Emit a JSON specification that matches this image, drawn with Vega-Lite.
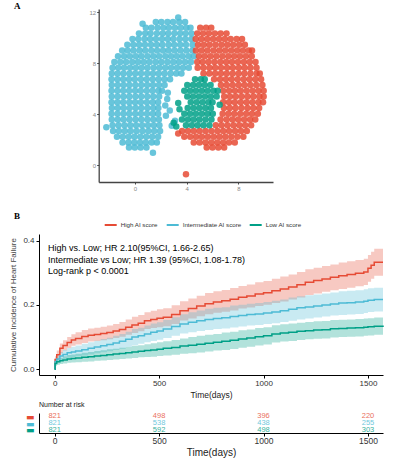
{
  "$schema": "https://vega.github.io/schema/vega-lite/v6.json",
  "padding": {"left": 9, "top": 2, "right": 0, "bottom": 0},
  "spacing": 21,
  "resolve": {"legend": {"color": "independent"}},
  "config": {
    "view": {"stroke": null},
    "font": "Liberation Sans",
    "axis": {"grid": false, "labelFont": "Liberation Sans", "titleFont": "Liberation Sans", "titleFontWeight": "normal", "domainColor": "#000", "tickColor": "#000", "labelColor": "#333", "titleColor": "#222"},
    "title": {"font": "Liberation Serif", "fontWeight": "bold", "fontSize": 9, "color": "#000"}
  },
  "datasets": {
    "umap": [
      {"x":1.62,"y":11.25,"c":"I"},{"x":2.05,"y":11.25,"c":"I"},{"x":2.52,"y":11.25,"c":"I"},{"x":2.95,"y":11.25,"c":"I"},{"x":3.43,"y":11.25,"c":"I"},{"x":3.88,"y":11.25,"c":"I"},
      {"x":0.85,"y":10.8,"c":"I"},{"x":1.28,"y":10.8,"c":"I"},{"x":1.75,"y":10.8,"c":"I"},{"x":2.2,"y":10.8,"c":"I"},{"x":2.63,"y":10.8,"c":"I"},{"x":3.1,"y":10.8,"c":"I"},{"x":3.55,"y":10.8,"c":"I"},{"x":3.98,"y":10.8,"c":"I"},{"x":4.3,"y":10.8,"c":"I"},
      {"x":0.32,"y":10.35,"c":"I"},{"x":0.8,"y":10.35,"c":"I"},{"x":1.22,"y":10.35,"c":"I"},{"x":1.7,"y":10.35,"c":"I"},{"x":2.15,"y":10.35,"c":"I"},{"x":2.58,"y":10.35,"c":"I"},{"x":3.05,"y":10.35,"c":"I"},{"x":3.5,"y":10.35,"c":"I"},{"x":3.93,"y":10.35,"c":"I"},{"x":4.38,"y":10.35,"c":"I"},
      {"x":-0.18,"y":9.9,"c":"I"},{"x":0.27,"y":9.9,"c":"I"},{"x":0.74,"y":9.9,"c":"I"},{"x":1.18,"y":9.9,"c":"I"},{"x":1.63,"y":9.9,"c":"I"},{"x":2.1,"y":9.9,"c":"I"},{"x":2.55,"y":9.9,"c":"I"},{"x":2.98,"y":9.9,"c":"I"},{"x":3.45,"y":9.9,"c":"I"},{"x":3.9,"y":9.9,"c":"I"},{"x":4.36,"y":9.9,"c":"I"},
      {"x":-0.58,"y":9.45,"c":"I"},{"x":-0.12,"y":9.45,"c":"I"},{"x":0.33,"y":9.45,"c":"I"},{"x":0.78,"y":9.45,"c":"I"},{"x":1.25,"y":9.45,"c":"I"},{"x":1.7,"y":9.45,"c":"I"},{"x":2.13,"y":9.45,"c":"I"},{"x":2.6,"y":9.45,"c":"I"},{"x":3.04,"y":9.45,"c":"I"},{"x":3.5,"y":9.45,"c":"I"},{"x":3.95,"y":9.45,"c":"I"},{"x":4.45,"y":9.45,"c":"I"},
      {"x":-0.98,"y":9.0,"c":"I"},{"x":-0.55,"y":9.0,"c":"I"},{"x":-0.1,"y":9.0,"c":"I"},{"x":0.36,"y":9.0,"c":"I"},{"x":0.8,"y":9.0,"c":"I"},{"x":1.27,"y":9.0,"c":"I"},{"x":1.72,"y":9.0,"c":"I"},{"x":2.18,"y":9.0,"c":"I"},{"x":2.62,"y":9.0,"c":"I"},{"x":3.08,"y":9.0,"c":"I"},{"x":3.53,"y":9.0,"c":"I"},{"x":3.98,"y":9.0,"c":"I"},{"x":4.44,"y":9.0,"c":"I"},
      {"x":-1.3,"y":8.55,"c":"I"},{"x":-0.83,"y":8.55,"c":"I"},{"x":-0.38,"y":8.55,"c":"I"},{"x":0.08,"y":8.55,"c":"I"},{"x":0.52,"y":8.55,"c":"I"},{"x":0.98,"y":8.55,"c":"I"},{"x":1.43,"y":8.55,"c":"I"},{"x":1.88,"y":8.55,"c":"I"},{"x":2.35,"y":8.55,"c":"I"},{"x":2.8,"y":8.55,"c":"I"},{"x":3.25,"y":8.55,"c":"I"},{"x":3.7,"y":8.55,"c":"I"},{"x":4.16,"y":8.55,"c":"I"},{"x":4.55,"y":8.55,"c":"I"},
      {"x":-1.58,"y":8.1,"c":"I"},{"x":-1.12,"y":8.1,"c":"I"},{"x":-0.67,"y":8.1,"c":"I"},{"x":-0.2,"y":8.1,"c":"I"},{"x":0.25,"y":8.1,"c":"I"},{"x":0.7,"y":8.1,"c":"I"},{"x":1.15,"y":8.1,"c":"I"},{"x":1.62,"y":8.1,"c":"I"},{"x":2.07,"y":8.1,"c":"I"},{"x":2.53,"y":8.1,"c":"I"},{"x":2.98,"y":8.1,"c":"I"},{"x":3.42,"y":8.1,"c":"I"},{"x":3.88,"y":8.1,"c":"I"},{"x":4.33,"y":8.1,"c":"I"},
      {"x":-1.72,"y":7.65,"c":"I"},{"x":-1.28,"y":7.65,"c":"I"},{"x":-0.83,"y":7.65,"c":"I"},{"x":-0.37,"y":7.65,"c":"I"},{"x":0.08,"y":7.65,"c":"I"},{"x":0.53,"y":7.65,"c":"I"},{"x":0.98,"y":7.65,"c":"I"},{"x":1.45,"y":7.65,"c":"I"},{"x":1.9,"y":7.65,"c":"I"},{"x":2.35,"y":7.65,"c":"I"},{"x":2.8,"y":7.65,"c":"I"},{"x":3.26,"y":7.65,"c":"I"},{"x":3.72,"y":7.65,"c":"I"},{"x":4.17,"y":7.65,"c":"I"},
      {"x":-1.78,"y":7.2,"c":"I"},{"x":-1.33,"y":7.2,"c":"I"},{"x":-0.88,"y":7.2,"c":"I"},{"x":-0.42,"y":7.2,"c":"I"},{"x":0.03,"y":7.2,"c":"I"},{"x":0.48,"y":7.2,"c":"I"},{"x":0.95,"y":7.2,"c":"I"},{"x":1.4,"y":7.2,"c":"I"},{"x":1.85,"y":7.2,"c":"I"},{"x":2.3,"y":7.2,"c":"I"},{"x":2.76,"y":7.2,"c":"I"},{"x":3.2,"y":7.2,"c":"I"},{"x":3.6,"y":7.2,"c":"I"},
      {"x":-1.8,"y":6.75,"c":"I"},{"x":-1.35,"y":6.75,"c":"I"},{"x":-0.9,"y":6.75,"c":"I"},{"x":-0.45,"y":6.75,"c":"I"},{"x":0.0,"y":6.75,"c":"I"},{"x":0.47,"y":6.75,"c":"I"},{"x":0.92,"y":6.75,"c":"I"},{"x":1.38,"y":6.75,"c":"I"},{"x":1.83,"y":6.75,"c":"I"},{"x":2.28,"y":6.75,"c":"I"},{"x":2.72,"y":6.75,"c":"I"},
      {"x":-1.78,"y":6.3,"c":"I"},{"x":-1.32,"y":6.3,"c":"I"},{"x":-0.87,"y":6.3,"c":"I"},{"x":-0.42,"y":6.3,"c":"I"},{"x":0.04,"y":6.3,"c":"I"},{"x":0.5,"y":6.3,"c":"I"},{"x":0.95,"y":6.3,"c":"I"},{"x":1.4,"y":6.3,"c":"I"},{"x":1.86,"y":6.3,"c":"I"},{"x":2.3,"y":6.3,"c":"I"},
      {"x":-1.8,"y":5.85,"c":"I"},{"x":-1.35,"y":5.85,"c":"I"},{"x":-0.9,"y":5.85,"c":"I"},{"x":-0.44,"y":5.85,"c":"I"},{"x":0.02,"y":5.85,"c":"I"},{"x":0.46,"y":5.85,"c":"I"},{"x":0.92,"y":5.85,"c":"I"},{"x":1.37,"y":5.85,"c":"I"},{"x":1.82,"y":5.85,"c":"I"},{"x":2.1,"y":5.85,"c":"I"},
      {"x":-1.78,"y":5.4,"c":"I"},{"x":-1.32,"y":5.4,"c":"I"},{"x":-0.86,"y":5.4,"c":"I"},{"x":-0.41,"y":5.4,"c":"I"},{"x":0.05,"y":5.4,"c":"I"},{"x":0.5,"y":5.4,"c":"I"},{"x":0.96,"y":5.4,"c":"I"},{"x":1.42,"y":5.4,"c":"I"},{"x":1.88,"y":5.4,"c":"I"},
      {"x":-1.8,"y":4.95,"c":"I"},{"x":-1.35,"y":4.95,"c":"I"},{"x":-0.9,"y":4.95,"c":"I"},{"x":-0.43,"y":4.95,"c":"I"},{"x":0.02,"y":4.95,"c":"I"},{"x":0.47,"y":4.95,"c":"I"},{"x":0.93,"y":4.95,"c":"I"},{"x":1.38,"y":4.95,"c":"I"},{"x":1.8,"y":4.95,"c":"I"},
      {"x":-1.77,"y":4.5,"c":"I"},{"x":-1.31,"y":4.5,"c":"I"},{"x":-0.86,"y":4.5,"c":"I"},{"x":-0.4,"y":4.5,"c":"I"},{"x":0.06,"y":4.5,"c":"I"},{"x":0.51,"y":4.5,"c":"I"},{"x":0.97,"y":4.5,"c":"I"},{"x":1.42,"y":4.5,"c":"I"},{"x":1.82,"y":4.5,"c":"I"},
      {"x":-1.8,"y":4.05,"c":"I"},{"x":-1.34,"y":4.05,"c":"I"},{"x":-0.88,"y":4.05,"c":"I"},{"x":-0.43,"y":4.05,"c":"I"},{"x":0.03,"y":4.05,"c":"I"},{"x":0.48,"y":4.05,"c":"I"},{"x":0.94,"y":4.05,"c":"I"},{"x":1.39,"y":4.05,"c":"I"},{"x":1.8,"y":4.05,"c":"I"},
      {"x":-1.78,"y":3.6,"c":"I"},{"x":-1.32,"y":3.6,"c":"I"},{"x":-0.87,"y":3.6,"c":"I"},{"x":-0.41,"y":3.6,"c":"I"},{"x":0.05,"y":3.6,"c":"I"},{"x":0.5,"y":3.6,"c":"I"},{"x":0.96,"y":3.6,"c":"I"},{"x":1.42,"y":3.6,"c":"I"},{"x":1.86,"y":3.6,"c":"I"},
      {"x":-1.72,"y":3.15,"c":"I"},{"x":-1.26,"y":3.15,"c":"I"},{"x":-0.8,"y":3.15,"c":"I"},{"x":-0.35,"y":3.15,"c":"I"},{"x":0.1,"y":3.15,"c":"I"},{"x":0.56,"y":3.15,"c":"I"},{"x":1.02,"y":3.15,"c":"I"},{"x":1.47,"y":3.15,"c":"I"},{"x":1.9,"y":3.15,"c":"I"},
      {"x":-1.68,"y":2.7,"c":"I"},{"x":-1.23,"y":2.7,"c":"I"},{"x":-0.77,"y":2.7,"c":"I"},{"x":-0.32,"y":2.7,"c":"I"},{"x":0.14,"y":2.7,"c":"I"},{"x":0.6,"y":2.7,"c":"I"},{"x":1.05,"y":2.7,"c":"I"},{"x":1.5,"y":2.7,"c":"I"},{"x":1.95,"y":2.7,"c":"I"},
      {"x":-1.38,"y":2.25,"c":"I"},{"x":-0.93,"y":2.25,"c":"I"},{"x":-0.47,"y":2.25,"c":"I"},{"x":-0.02,"y":2.25,"c":"I"},{"x":0.43,"y":2.25,"c":"I"},{"x":0.88,"y":2.25,"c":"I"},{"x":1.34,"y":2.25,"c":"I"},{"x":1.8,"y":2.25,"c":"I"},
      {"x":-0.95,"y":1.8,"c":"I"},{"x":-0.5,"y":1.8,"c":"I"},{"x":-0.05,"y":1.8,"c":"I"},{"x":0.4,"y":1.8,"c":"I"},{"x":0.85,"y":1.8,"c":"I"},{"x":1.3,"y":1.8,"c":"I"},{"x":1.7,"y":1.8,"c":"I"},
      {"x":-0.45,"y":1.4,"c":"I"},{"x":0.0,"y":1.4,"c":"I"},{"x":0.45,"y":1.4,"c":"I"},{"x":0.9,"y":1.4,"c":"I"},
      {"x":2.5,"y":5.2,"c":"I"},{"x":2.7,"y":4.3,"c":"I"},{"x":2.85,"y":3.1,"c":"I"},{"x":2.4,"y":3.9,"c":"I"},{"x":3.1,"y":3.5,"c":"I"},{"x":2.35,"y":4.7,"c":"I"},{"x":3.35,"y":11.6,"c":"I"},{"x":-2.2,"y":3.0,"c":"I"},{"x":1.4,"y":1.0,"c":"I"},{"x":0.6,"y":11.1,"c":"I"},{"x":2.55,"y":5.7,"c":"I"},
      {"x":5.05,"y":10.8,"c":"H"},{"x":5.5,"y":10.8,"c":"H"},{"x":5.9,"y":10.8,"c":"H"},
      {"x":4.82,"y":10.35,"c":"H"},{"x":5.27,"y":10.35,"c":"H"},{"x":5.72,"y":10.35,"c":"H"},{"x":6.18,"y":10.35,"c":"H"},{"x":6.63,"y":10.35,"c":"H"},{"x":7.08,"y":10.35,"c":"H"},
      {"x":4.7,"y":9.9,"c":"H"},{"x":5.13,"y":9.9,"c":"H"},{"x":5.58,"y":9.9,"c":"H"},{"x":6.04,"y":9.9,"c":"H"},{"x":6.5,"y":9.9,"c":"H"},{"x":6.95,"y":9.9,"c":"H"},{"x":7.4,"y":9.9,"c":"H"},{"x":7.86,"y":9.9,"c":"H"},{"x":8.28,"y":9.9,"c":"H"},
      {"x":4.88,"y":9.45,"c":"H"},{"x":5.33,"y":9.45,"c":"H"},{"x":5.78,"y":9.45,"c":"H"},{"x":6.24,"y":9.45,"c":"H"},{"x":6.7,"y":9.45,"c":"H"},{"x":7.15,"y":9.45,"c":"H"},{"x":7.6,"y":9.45,"c":"H"},{"x":8.06,"y":9.45,"c":"H"},{"x":8.5,"y":9.45,"c":"H"},
      {"x":4.72,"y":9.0,"c":"H"},{"x":5.17,"y":9.0,"c":"H"},{"x":5.62,"y":9.0,"c":"H"},{"x":6.08,"y":9.0,"c":"H"},{"x":6.53,"y":9.0,"c":"H"},{"x":6.98,"y":9.0,"c":"H"},{"x":7.44,"y":9.0,"c":"H"},{"x":7.9,"y":9.0,"c":"H"},{"x":8.35,"y":9.0,"c":"H"},{"x":8.8,"y":9.0,"c":"H"},{"x":9.05,"y":9.0,"c":"H"},
      {"x":4.95,"y":8.55,"c":"H"},{"x":5.4,"y":8.55,"c":"H"},{"x":5.85,"y":8.55,"c":"H"},{"x":6.3,"y":8.55,"c":"H"},{"x":6.76,"y":8.55,"c":"H"},{"x":7.22,"y":8.55,"c":"H"},{"x":7.67,"y":8.55,"c":"H"},{"x":8.12,"y":8.55,"c":"H"},{"x":8.58,"y":8.55,"c":"H"},{"x":9.03,"y":8.55,"c":"H"},
      {"x":4.82,"y":8.1,"c":"H"},{"x":5.23,"y":8.1,"c":"H"},{"x":5.68,"y":8.1,"c":"H"},{"x":6.14,"y":8.1,"c":"H"},{"x":6.6,"y":8.1,"c":"H"},{"x":7.05,"y":8.1,"c":"H"},{"x":7.5,"y":8.1,"c":"H"},{"x":7.96,"y":8.1,"c":"H"},{"x":8.42,"y":8.1,"c":"H"},{"x":8.87,"y":8.1,"c":"H"},{"x":9.32,"y":8.1,"c":"H"},
      {"x":4.85,"y":7.65,"c":"H"},{"x":5.3,"y":7.65,"c":"H"},{"x":5.76,"y":7.65,"c":"H"},{"x":6.2,"y":7.65,"c":"H"},{"x":6.66,"y":7.65,"c":"H"},{"x":7.12,"y":7.65,"c":"H"},{"x":7.57,"y":7.65,"c":"H"},{"x":8.03,"y":7.65,"c":"H"},{"x":8.48,"y":7.65,"c":"H"},{"x":8.93,"y":7.65,"c":"H"},{"x":9.4,"y":7.65,"c":"H"},
      {"x":5.3,"y":7.2,"c":"H"},{"x":5.75,"y":7.2,"c":"H"},{"x":6.2,"y":7.2,"c":"H"},{"x":6.65,"y":7.2,"c":"H"},{"x":7.1,"y":7.2,"c":"H"},{"x":7.56,"y":7.2,"c":"H"},{"x":8.02,"y":7.2,"c":"H"},{"x":8.47,"y":7.2,"c":"H"},{"x":8.93,"y":7.2,"c":"H"},{"x":9.4,"y":7.2,"c":"H"},{"x":9.65,"y":7.2,"c":"H"},
      {"x":6.12,"y":6.75,"c":"H"},{"x":6.58,"y":6.75,"c":"H"},{"x":7.03,"y":6.75,"c":"H"},{"x":7.48,"y":6.75,"c":"H"},{"x":7.94,"y":6.75,"c":"H"},{"x":8.4,"y":6.75,"c":"H"},{"x":8.85,"y":6.75,"c":"H"},{"x":9.3,"y":6.75,"c":"H"},{"x":9.75,"y":6.75,"c":"H"},
      {"x":6.65,"y":6.3,"c":"H"},{"x":7.1,"y":6.3,"c":"H"},{"x":7.56,"y":6.3,"c":"H"},{"x":8.02,"y":6.3,"c":"H"},{"x":8.47,"y":6.3,"c":"H"},{"x":8.92,"y":6.3,"c":"H"},{"x":9.38,"y":6.3,"c":"H"},{"x":9.85,"y":6.3,"c":"H"},
      {"x":6.82,"y":5.85,"c":"H"},{"x":7.28,"y":5.85,"c":"H"},{"x":7.73,"y":5.85,"c":"H"},{"x":8.18,"y":5.85,"c":"H"},{"x":8.64,"y":5.85,"c":"H"},{"x":9.1,"y":5.85,"c":"H"},{"x":9.55,"y":5.85,"c":"H"},{"x":9.95,"y":5.85,"c":"H"},
      {"x":6.9,"y":5.4,"c":"H"},{"x":7.35,"y":5.4,"c":"H"},{"x":7.8,"y":5.4,"c":"H"},{"x":8.26,"y":5.4,"c":"H"},{"x":8.72,"y":5.4,"c":"H"},{"x":9.17,"y":5.4,"c":"H"},{"x":9.62,"y":5.4,"c":"H"},{"x":9.95,"y":5.4,"c":"H"},
      {"x":6.82,"y":4.95,"c":"H"},{"x":7.27,"y":4.95,"c":"H"},{"x":7.72,"y":4.95,"c":"H"},{"x":8.18,"y":4.95,"c":"H"},{"x":8.63,"y":4.95,"c":"H"},{"x":9.08,"y":4.95,"c":"H"},{"x":9.54,"y":4.95,"c":"H"},{"x":9.9,"y":4.95,"c":"H"},
      {"x":6.88,"y":4.5,"c":"H"},{"x":7.33,"y":4.5,"c":"H"},{"x":7.78,"y":4.5,"c":"H"},{"x":8.24,"y":4.5,"c":"H"},{"x":8.7,"y":4.5,"c":"H"},{"x":9.15,"y":4.5,"c":"H"},{"x":9.6,"y":4.5,"c":"H"},
      {"x":6.78,"y":4.05,"c":"H"},{"x":7.23,"y":4.05,"c":"H"},{"x":7.68,"y":4.05,"c":"H"},{"x":8.14,"y":4.05,"c":"H"},{"x":8.6,"y":4.05,"c":"H"},{"x":9.05,"y":4.05,"c":"H"},{"x":9.5,"y":4.05,"c":"H"},
      {"x":6.62,"y":3.6,"c":"H"},{"x":7.08,"y":3.6,"c":"H"},{"x":7.53,"y":3.6,"c":"H"},{"x":7.98,"y":3.6,"c":"H"},{"x":8.44,"y":3.6,"c":"H"},{"x":8.9,"y":3.6,"c":"H"},{"x":9.3,"y":3.6,"c":"H"},
      {"x":6.25,"y":3.15,"c":"H"},{"x":6.7,"y":3.15,"c":"H"},{"x":7.16,"y":3.15,"c":"H"},{"x":7.62,"y":3.15,"c":"H"},{"x":8.07,"y":3.15,"c":"H"},{"x":8.52,"y":3.15,"c":"H"},{"x":8.98,"y":3.15,"c":"H"},
      {"x":3.65,"y":2.7,"c":"H"},{"x":4.1,"y":2.7,"c":"H"},{"x":4.55,"y":2.7,"c":"H"},{"x":5.0,"y":2.7,"c":"H"},{"x":5.46,"y":2.7,"c":"H"},{"x":5.92,"y":2.7,"c":"H"},{"x":6.38,"y":2.7,"c":"H"},{"x":6.83,"y":2.7,"c":"H"},{"x":7.28,"y":2.7,"c":"H"},{"x":7.74,"y":2.7,"c":"H"},{"x":8.2,"y":2.7,"c":"H"},{"x":8.65,"y":2.7,"c":"H"},
      {"x":3.82,"y":2.25,"c":"H"},{"x":4.28,"y":2.25,"c":"H"},{"x":4.73,"y":2.25,"c":"H"},{"x":5.18,"y":2.25,"c":"H"},{"x":5.64,"y":2.25,"c":"H"},{"x":6.1,"y":2.25,"c":"H"},{"x":6.55,"y":2.25,"c":"H"},{"x":7.0,"y":2.25,"c":"H"},{"x":7.46,"y":2.25,"c":"H"},{"x":7.92,"y":2.25,"c":"H"},{"x":8.38,"y":2.25,"c":"H"},
      {"x":4.55,"y":1.8,"c":"H"},{"x":5.0,"y":1.8,"c":"H"},{"x":5.45,"y":1.8,"c":"H"},{"x":5.9,"y":1.8,"c":"H"},{"x":6.36,"y":1.8,"c":"H"},{"x":6.82,"y":1.8,"c":"H"},{"x":7.27,"y":1.8,"c":"H"},{"x":7.72,"y":1.8,"c":"H"},
      {"x":5.55,"y":1.4,"c":"H"},{"x":6.0,"y":1.4,"c":"H"},{"x":6.45,"y":1.4,"c":"H"},{"x":6.9,"y":1.4,"c":"H"},
      {"x":3.95,"y":-0.7,"c":"H"},{"x":3.35,"y":2.5,"c":"H"},
      {"x":4.65,"y":6.75,"c":"L"},{"x":5.1,"y":6.75,"c":"L"},{"x":5.4,"y":6.75,"c":"L"},
      {"x":4.05,"y":6.3,"c":"L"},{"x":4.5,"y":6.3,"c":"L"},{"x":4.95,"y":6.3,"c":"L"},{"x":5.4,"y":6.3,"c":"L"},{"x":5.85,"y":6.3,"c":"L"},
      {"x":3.82,"y":5.85,"c":"L"},{"x":4.27,"y":5.85,"c":"L"},{"x":4.72,"y":5.85,"c":"L"},{"x":5.18,"y":5.85,"c":"L"},{"x":5.63,"y":5.85,"c":"L"},{"x":6.08,"y":5.85,"c":"L"},{"x":6.4,"y":5.85,"c":"L"},
      {"x":4.05,"y":5.4,"c":"L"},{"x":4.5,"y":5.4,"c":"L"},{"x":4.96,"y":5.4,"c":"L"},{"x":5.42,"y":5.4,"c":"L"},{"x":5.87,"y":5.4,"c":"L"},{"x":6.32,"y":5.4,"c":"L"},
      {"x":4.32,"y":4.95,"c":"L"},{"x":4.78,"y":4.95,"c":"L"},{"x":5.23,"y":4.95,"c":"L"},{"x":5.68,"y":4.95,"c":"L"},{"x":6.0,"y":4.95,"c":"L"},
      {"x":4.08,"y":4.5,"c":"L"},{"x":4.53,"y":4.5,"c":"L"},{"x":4.98,"y":4.5,"c":"L"},{"x":5.44,"y":4.5,"c":"L"},{"x":5.88,"y":4.5,"c":"L"},
      {"x":3.82,"y":4.05,"c":"L"},{"x":4.27,"y":4.05,"c":"L"},{"x":4.72,"y":4.05,"c":"L"},{"x":5.18,"y":4.05,"c":"L"},{"x":5.63,"y":4.05,"c":"L"},{"x":6.02,"y":4.05,"c":"L"},
      {"x":3.64,"y":3.6,"c":"L"},{"x":4.1,"y":3.6,"c":"L"},{"x":4.55,"y":3.6,"c":"L"},{"x":5.0,"y":3.6,"c":"L"},{"x":5.46,"y":3.6,"c":"L"},{"x":5.92,"y":3.6,"c":"L"},
      {"x":3.95,"y":3.15,"c":"L"},{"x":4.4,"y":3.15,"c":"L"},{"x":4.85,"y":3.15,"c":"L"},{"x":5.3,"y":3.15,"c":"L"},{"x":5.76,"y":3.15,"c":"L"},
      {"x":3.2,"y":3.05,"c":"L"},{"x":3.35,"y":4.9,"c":"L"},{"x":3.45,"y":4.4,"c":"L"},{"x":6.55,"y":4.75,"c":"L"},{"x":3.0,"y":3.35,"c":"L"}
    ],
    "km": [
      {"g":"H","t":0,"e":0,"l":0,"h":0},{"g":"H","t":2,"e":0.03,"l":0.02,"h":0.04},{"g":"H","t":10,"e":0.045,"l":0.032,"h":0.058},{"g":"H","t":25,"e":0.065,"l":0.05,"h":0.08},{"g":"H","t":40,"e":0.074,"l":0.058,"h":0.09},{"g":"H","t":60,"e":0.083,"l":0.066,"h":0.1},{"g":"H","t":80,"e":0.091,"l":0.073,"h":0.109},{"g":"H","t":100,"e":0.096,"l":0.077,"h":0.115},{"g":"H","t":130,"e":0.102,"l":0.082,"h":0.122},{"g":"H","t":160,"e":0.106,"l":0.086,"h":0.127},{"g":"H","t":190,"e":0.108,"l":0.088,"h":0.129},{"g":"H","t":220,"e":0.111,"l":0.09,"h":0.132},{"g":"H","t":250,"e":0.114,"l":0.093,"h":0.136},{"g":"H","t":280,"e":0.119,"l":0.097,"h":0.141},{"g":"H","t":310,"e":0.124,"l":0.101,"h":0.147},{"g":"H","t":340,"e":0.131,"l":0.107,"h":0.155},{"g":"H","t":370,"e":0.138,"l":0.113,"h":0.163},{"g":"H","t":400,"e":0.143,"l":0.118,"h":0.169},{"g":"H","t":430,"e":0.151,"l":0.125,"h":0.177},{"g":"H","t":460,"e":0.155,"l":0.128,"h":0.182},{"g":"H","t":490,"e":0.159,"l":0.131,"h":0.187},{"g":"H","t":520,"e":0.162,"l":0.134,"h":0.19},{"g":"H","t":560,"e":0.17,"l":0.141,"h":0.199},{"g":"H","t":600,"e":0.182,"l":0.152,"h":0.212},{"g":"H","t":640,"e":0.189,"l":0.158,"h":0.22},{"g":"H","t":680,"e":0.197,"l":0.165,"h":0.229},{"g":"H","t":720,"e":0.204,"l":0.171,"h":0.237},{"g":"H","t":760,"e":0.209,"l":0.176,"h":0.243},{"g":"H","t":800,"e":0.213,"l":0.179,"h":0.247},{"g":"H","t":840,"e":0.218,"l":0.183,"h":0.253},{"g":"H","t":880,"e":0.224,"l":0.189,"h":0.259},{"g":"H","t":920,"e":0.228,"l":0.192,"h":0.264},{"g":"H","t":960,"e":0.234,"l":0.197,"h":0.271},{"g":"H","t":1000,"e":0.238,"l":0.201,"h":0.275},{"g":"H","t":1040,"e":0.244,"l":0.206,"h":0.282},{"g":"H","t":1080,"e":0.25,"l":0.211,"h":0.289},{"g":"H","t":1120,"e":0.256,"l":0.217,"h":0.295},{"g":"H","t":1160,"e":0.263,"l":0.223,"h":0.303},{"g":"H","t":1200,"e":0.271,"l":0.231,"h":0.311},{"g":"H","t":1240,"e":0.276,"l":0.236,"h":0.316},{"g":"H","t":1280,"e":0.281,"l":0.241,"h":0.321},{"g":"H","t":1320,"e":0.286,"l":0.246,"h":0.326},{"g":"H","t":1360,"e":0.291,"l":0.25,"h":0.332},{"g":"H","t":1400,"e":0.295,"l":0.254,"h":0.336},{"g":"H","t":1440,"e":0.299,"l":0.258,"h":0.34},{"g":"H","t":1480,"e":0.303,"l":0.262,"h":0.344},{"g":"H","t":1500,"e":0.314,"l":0.272,"h":0.356},{"g":"H","t":1515,"e":0.324,"l":0.282,"h":0.366},{"g":"H","t":1530,"e":0.333,"l":0.291,"h":0.375},{"g":"H","t":1572,"e":0.333,"l":0.291,"h":0.375},
      {"g":"I","t":0,"e":0,"l":0,"h":0},{"g":"I","t":2,"e":0.024,"l":0.015,"h":0.033},{"g":"I","t":10,"e":0.032,"l":0.021,"h":0.043},{"g":"I","t":25,"e":0.041,"l":0.028,"h":0.054},{"g":"I","t":40,"e":0.046,"l":0.032,"h":0.06},{"g":"I","t":60,"e":0.051,"l":0.036,"h":0.066},{"g":"I","t":80,"e":0.054,"l":0.038,"h":0.07},{"g":"I","t":100,"e":0.057,"l":0.04,"h":0.074},{"g":"I","t":130,"e":0.061,"l":0.043,"h":0.079},{"g":"I","t":160,"e":0.065,"l":0.046,"h":0.084},{"g":"I","t":190,"e":0.069,"l":0.05,"h":0.089},{"g":"I","t":220,"e":0.073,"l":0.053,"h":0.094},{"g":"I","t":250,"e":0.077,"l":0.056,"h":0.098},{"g":"I","t":280,"e":0.082,"l":0.06,"h":0.104},{"g":"I","t":310,"e":0.087,"l":0.064,"h":0.11},{"g":"I","t":340,"e":0.093,"l":0.069,"h":0.117},{"g":"I","t":370,"e":0.1,"l":0.075,"h":0.125},{"g":"I","t":400,"e":0.104,"l":0.079,"h":0.129},{"g":"I","t":430,"e":0.11,"l":0.084,"h":0.136},{"g":"I","t":460,"e":0.115,"l":0.088,"h":0.142},{"g":"I","t":490,"e":0.119,"l":0.092,"h":0.146},{"g":"I","t":520,"e":0.125,"l":0.097,"h":0.153},{"g":"I","t":560,"e":0.133,"l":0.104,"h":0.162},{"g":"I","t":600,"e":0.141,"l":0.111,"h":0.171},{"g":"I","t":640,"e":0.146,"l":0.115,"h":0.177},{"g":"I","t":680,"e":0.151,"l":0.119,"h":0.183},{"g":"I","t":720,"e":0.155,"l":0.122,"h":0.188},{"g":"I","t":760,"e":0.158,"l":0.125,"h":0.191},{"g":"I","t":800,"e":0.16,"l":0.127,"h":0.193},{"g":"I","t":840,"e":0.164,"l":0.13,"h":0.198},{"g":"I","t":880,"e":0.167,"l":0.133,"h":0.201},{"g":"I","t":920,"e":0.17,"l":0.136,"h":0.204},{"g":"I","t":960,"e":0.172,"l":0.138,"h":0.206},{"g":"I","t":1000,"e":0.175,"l":0.141,"h":0.209},{"g":"I","t":1040,"e":0.178,"l":0.143,"h":0.213},{"g":"I","t":1080,"e":0.182,"l":0.147,"h":0.217},{"g":"I","t":1120,"e":0.187,"l":0.151,"h":0.223},{"g":"I","t":1160,"e":0.191,"l":0.155,"h":0.227},{"g":"I","t":1200,"e":0.194,"l":0.158,"h":0.23},{"g":"I","t":1240,"e":0.197,"l":0.161,"h":0.233},{"g":"I","t":1280,"e":0.2,"l":0.164,"h":0.236},{"g":"I","t":1320,"e":0.203,"l":0.167,"h":0.239},{"g":"I","t":1360,"e":0.206,"l":0.169,"h":0.243},{"g":"I","t":1400,"e":0.207,"l":0.17,"h":0.244},{"g":"I","t":1440,"e":0.209,"l":0.172,"h":0.246},{"g":"I","t":1480,"e":0.212,"l":0.175,"h":0.249},{"g":"I","t":1500,"e":0.215,"l":0.178,"h":0.252},{"g":"I","t":1530,"e":0.217,"l":0.18,"h":0.254},{"g":"I","t":1572,"e":0.217,"l":0.18,"h":0.254},
      {"g":"L","t":0,"e":0,"l":0,"h":0},{"g":"L","t":2,"e":0.018,"l":0.01,"h":0.026},{"g":"L","t":10,"e":0.023,"l":0.014,"h":0.032},{"g":"L","t":25,"e":0.026,"l":0.016,"h":0.036},{"g":"L","t":40,"e":0.029,"l":0.018,"h":0.04},{"g":"L","t":60,"e":0.032,"l":0.02,"h":0.044},{"g":"L","t":80,"e":0.033,"l":0.021,"h":0.046},{"g":"L","t":100,"e":0.035,"l":0.022,"h":0.048},{"g":"L","t":130,"e":0.037,"l":0.023,"h":0.051},{"g":"L","t":160,"e":0.039,"l":0.024,"h":0.054},{"g":"L","t":190,"e":0.041,"l":0.026,"h":0.057},{"g":"L","t":220,"e":0.043,"l":0.027,"h":0.059},{"g":"L","t":250,"e":0.045,"l":0.029,"h":0.062},{"g":"L","t":280,"e":0.047,"l":0.03,"h":0.064},{"g":"L","t":310,"e":0.049,"l":0.032,"h":0.067},{"g":"L","t":340,"e":0.051,"l":0.033,"h":0.069},{"g":"L","t":370,"e":0.054,"l":0.035,"h":0.073},{"g":"L","t":400,"e":0.056,"l":0.037,"h":0.075},{"g":"L","t":430,"e":0.058,"l":0.038,"h":0.078},{"g":"L","t":460,"e":0.06,"l":0.039,"h":0.081},{"g":"L","t":490,"e":0.062,"l":0.041,"h":0.084},{"g":"L","t":520,"e":0.065,"l":0.043,"h":0.087},{"g":"L","t":560,"e":0.068,"l":0.045,"h":0.091},{"g":"L","t":600,"e":0.072,"l":0.048,"h":0.096},{"g":"L","t":640,"e":0.075,"l":0.05,"h":0.1},{"g":"L","t":680,"e":0.078,"l":0.052,"h":0.104},{"g":"L","t":720,"e":0.081,"l":0.055,"h":0.107},{"g":"L","t":760,"e":0.084,"l":0.058,"h":0.11},{"g":"L","t":800,"e":0.087,"l":0.06,"h":0.114},{"g":"L","t":840,"e":0.09,"l":0.063,"h":0.117},{"g":"L","t":880,"e":0.094,"l":0.067,"h":0.121},{"g":"L","t":920,"e":0.097,"l":0.07,"h":0.124},{"g":"L","t":960,"e":0.101,"l":0.074,"h":0.128},{"g":"L","t":1000,"e":0.104,"l":0.077,"h":0.131},{"g":"L","t":1040,"e":0.11,"l":0.083,"h":0.137},{"g":"L","t":1080,"e":0.113,"l":0.086,"h":0.14},{"g":"L","t":1120,"e":0.115,"l":0.088,"h":0.142},{"g":"L","t":1160,"e":0.118,"l":0.091,"h":0.145},{"g":"L","t":1200,"e":0.12,"l":0.093,"h":0.147},{"g":"L","t":1240,"e":0.122,"l":0.095,"h":0.149},{"g":"L","t":1280,"e":0.123,"l":0.096,"h":0.15},{"g":"L","t":1320,"e":0.126,"l":0.099,"h":0.153},{"g":"L","t":1360,"e":0.127,"l":0.1,"h":0.154},{"g":"L","t":1400,"e":0.128,"l":0.101,"h":0.155},{"g":"L","t":1440,"e":0.129,"l":0.102,"h":0.156},{"g":"L","t":1480,"e":0.131,"l":0.104,"h":0.158},{"g":"L","t":1500,"e":0.132,"l":0.105,"h":0.159},{"g":"L","t":1530,"e":0.134,"l":0.107,"h":0.161},{"g":"L","t":1572,"e":0.136,"l":0.109,"h":0.163}
    ],
    "risk": [
      {"g":"H","t":0,"n":821},{"g":"H","t":500,"n":498},{"g":"H","t":1000,"n":396},{"g":"H","t":1500,"n":220},
      {"g":"I","t":0,"n":821},{"g":"I","t":500,"n":538},{"g":"I","t":1000,"n":438},{"g":"I","t":1500,"n":255},
      {"g":"L","t":0,"n":821},{"g":"L","t":500,"n":592},{"g":"L","t":1000,"n":498},{"g":"L","t":1500,"n":303}
    ]
  },
  "vconcat": [
    {
      "width": 234,
      "height": 173,
      "title": {"text": "A", "anchor": "start", "frame": "group", "dx": -25, "offset": -2},
      "data": {"name": "umap"},
      "mark": {"type": "point", "filled": true, "size": 42, "opacity": 0.85},
      "encoding": {
        "x": {"field": "x", "type": "quantitative", "scale": {"domain": [-2.79, 10.67], "range": [59.7, 234], "nice": false, "zero": false},
              "axis": {"values": [0, 4, 8], "title": null, "labelFontSize": 6, "labelColor": "#888", "tickSize": 2, "tickColor": "#444", "domainColor": "#444", "domainWidth": 1.3, "labelPadding": 1}},
        "y": {"field": "y", "type": "quantitative", "scale": {"domain": [-1.3, 12.26], "nice": false, "zero": false},
              "axis": {"values": [0, 4, 8, 12], "title": null, "offset": -59.7, "labelFontSize": 6, "labelColor": "#888", "tickSize": 2, "tickColor": "#444", "domainColor": "#444", "domainWidth": 1.3, "labelPadding": 1}},
        "color": {"field": "c", "type": "nominal", "scale": {"domain": ["H", "I", "L"], "range": ["#E64B35", "#4DBBD5", "#00A087"]}, "legend": null}
      }
    },
    {
      "spacing": 2,
      "resolve": {"legend": {"color": "independent"}},
      "vconcat": [
        {
          "width": 344,
          "height": 141,
          "title": {"text": "B", "anchor": "start", "frame": "group", "dx": -25, "offset": -3},
          "layer": [
            {
              "data": {"name": "km"},
              "mark": {"type": "area", "interpolate": "step-after", "opacity": 0.3},
              "encoding": {
                "x": {"field": "t", "type": "quantitative", "scale": {"domain": [-75, 1572], "nice": false, "zero": false},
                      "axis": {"values": [0, 500, 1000, 1500], "format": "d", "title": "Time(days)", "labelFontSize": 8, "titleFontSize": 8.5, "tickSize": 3, "labelPadding": 1, "titlePadding": 3}},
                "y": {"field": "l", "type": "quantitative", "scale": {"domain": [-0.018, 0.421], "nice": false, "zero": false},
                      "axis": {"values": [0, 0.1, 0.2, 0.3, 0.4], "format": ".1f", "title": "Cumulative Incidence of Heart Failure", "titleColor": "#444", "labelFontSize": 8, "titleFontSize": 8, "tickSize": 3, "labelPadding": 2, "titlePadding": 5}},
                "y2": {"field": "h"},
                "color": {"field": "g", "type": "nominal", "scale": {"domain": ["H", "I", "L"], "range": ["#E64B35", "#4DBBD5", "#00A087"]}}
              }
            },
            {
              "data": {"name": "km"},
              "mark": {"type": "line", "interpolate": "step-after", "strokeWidth": 1.5},
              "encoding": {
                "x": {"field": "t", "type": "quantitative"},
                "y": {"field": "e", "type": "quantitative"},
                "color": {"field": "g", "type": "nominal",
                          "legend": {"orient": "none", "legendX": 64.7, "legendY": -16, "direction": "horizontal", "title": null, "symbolType": "stroke", "symbolSize": 144, "symbolStrokeWidth": 2, "symbolOpacity": 1, "labelFontSize": 6.2, "labelColor": "#333", "labelOffset": 3, "columnPadding": 4, "padding": 0,
                                     "encode": {"symbols": {"update": {"opacity": {"value": 1}, "strokeOpacity": {"value": 1}, "strokeWidth": {"value": 2}}}},
                                     "labelExpr": "datum.label == 'H' ? 'High AI score' : datum.label == 'I' ? 'Intermediate AI score' : 'Low AI score'"}}
              }
            },
            {
              "data": {"values": [{"label": "High vs. Low; HR 2.10(95%CI, 1.66-2.65)\nIntermediate vs Low; HR 1.39 (95%CI, 1.08-1.78)\nLog-rank p < 0.0001"}]},
              "mark": {"type": "text", "align": "left", "baseline": "middle", "fontSize": 9, "lineBreak": "\n", "lineHeight": 11.3, "color": "#000"},
              "encoding": {
                "x": {"datum": -32, "type": "quantitative"},
                "y": {"datum": 0.376, "type": "quantitative"},
                "text": {"field": "label"}
              }
            }
          ]
        },
        {
          "width": 344,
          "height": 20,
          "title": {"text": "Number at risk", "anchor": "start", "frame": "group", "font": "Liberation Sans", "fontWeight": "normal", "fontSize": 7, "color": "#222", "offset": 4},
          "data": {"name": "risk"},
          "mark": {"type": "text", "fontSize": 7.5, "opacity": 0.8, "baseline": "middle"},
          "encoding": {
            "x": {"field": "t", "type": "quantitative", "scale": {"domain": [-75, 1572], "nice": false, "zero": false},
                  "axis": {"values": [0, 500, 1000, 1500], "format": "d", "title": "Time(days)", "labelFontSize": 8.5, "titleFontSize": 10, "tickSize": 3, "labelPadding": 0, "titlePadding": 3}},
            "y": {"field": "g", "type": "nominal", "scale": {"domain": ["H", "I", "L"], "paddingInner": 0, "paddingOuter": 0},
                  "axis": {"title": null, "ticks": false, "labelExpr": "'▬'", "labelFont": "DejaVu Sans", "labelFontSize": 9, "labelPadding": 5,
                           "labelColor": {"condition": [{"test": "datum.value === 'H'", "value": "#E64B35"}, {"test": "datum.value === 'I'", "value": "#4DBBD5"}], "value": "#00A087"}}},
            "text": {"field": "n", "type": "quantitative"},
            "color": {"field": "g", "type": "nominal", "legend": null}
          }
        }
      ]
    }
  ]
}
